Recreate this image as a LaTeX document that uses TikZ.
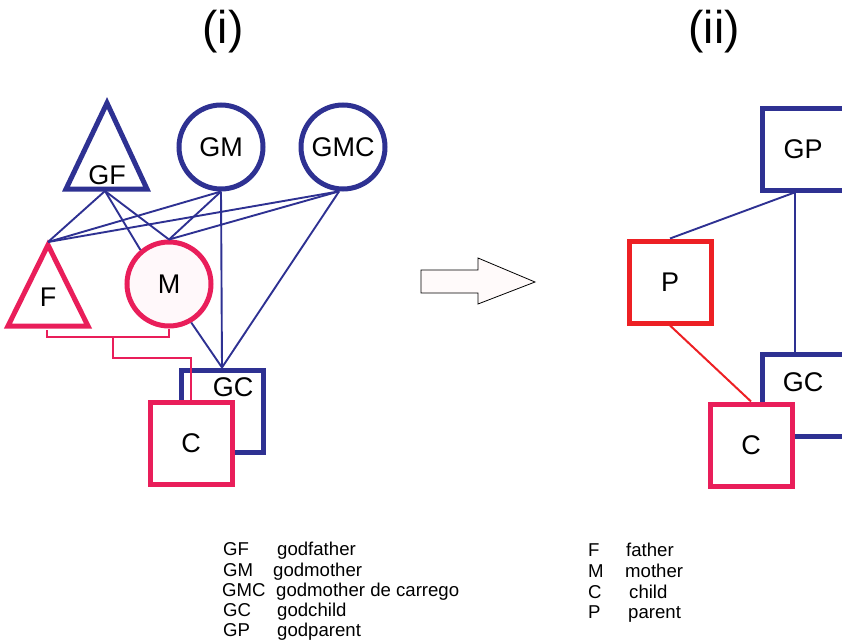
\documentclass[tikz,border=0pt]{standalone}
\usepackage{fontspec}
\setmainfont{Liberation Sans}
\usetikzlibrary{positioning}
\definecolor{godblue}{HTML}{2E3192}
\definecolor{kinpink}{HTML}{E91E5A}
\definecolor{kinred}{HTML}{ED2024}
\definecolor{mumfill}{HTML}{FFF8FA}
\definecolor{arrowfill}{HTML}{FFFAFA}
\begin{document}
\begin{tikzpicture}[x=1pt, y=-1pt,
    bigtext/.style={font=\fontsize{27}{27}\selectfont},
    godbox/.style={draw=godblue, fill=white, line width=5pt, minimum size=82pt, inner sep=0pt},
    godring/.style={circle, draw=godblue, fill=white, line width=5pt, minimum size=84pt, inner sep=0pt, bigtext},
    kinbox/.style={draw=kinpink, fill=white, line width=5pt, minimum size=82pt, inner sep=0pt, bigtext},
    godline/.style={draw=godblue, line width=1.9pt},
    kinline/.style={draw=kinpink, line width=2pt},
    keytext/.style={anchor=base west, inner sep=0pt, font=\fontsize{18.6}{18.6}\selectfont}]
        \clip (0,0) rectangle (842,640);

        \node [anchor=base, font=\fontsize{46}{46}\selectfont] (titleone) at (223,43) {(i)};
        \node [anchor=base, font=\fontsize{46}{46}\selectfont] (titletwo) at (714,43) {(ii)};

        % (i)
        \coordinate (GFtop) at (107,103);
        \coordinate (GFbase) at (105,191);
        \draw [godblue, line width=5pt] (GFtop) -- (147,189) -- (66,189) -- cycle;
        \node [bigtext] (GFlabel) at (107,175) {GF};
        \node [godring] (GM) at (221,147) {GM};
        \node [godring] (GMC) at (343,147) {GMC};

        \coordinate (Ftop) at (48,242);
        \coordinate (Fbase) at (47,330);
        \draw [kinpink, line width=5pt] (48,245) -- (88,326) -- (8,326) -- cycle;
        \node [bigtext] (Flabel) at (48,297) {F};
        \node [godring, draw=kinpink, fill=mumfill] (M) at (169,284) {M};

        \node [godbox] (GC) at (222,411) {};
        \node [bigtext] (GClabel) at (233,387) {GC};
        \node [kinbox] (C) at (191,443) {C};

        \draw [godline] (GFbase) -- (Ftop);
        \draw [godline] (GFbase) -- (M.130);
        \draw [godline] (GFbase) -- (M.north);
        \draw [godline] (GM.south) -- (Ftop);
        \draw [godline] (GM.south) -- (M.north);
        \draw [godline] (GM.south) -- (GC.north);
        \draw [godline] (GMC.-95) -- (Ftop);
        \draw [godline] (GMC.-95) -- (M.north);
        \draw [godline] (GMC.-95) -- (GC.north);
        \draw [godline] (M.-60) -- (GC.north);

        \coordinate (union) at (113,337);
        \draw [kinline] (Fbase) -- ++(0,7) -| (M.south);
        \draw [kinline] (union) -- ++(0,21) -| (C.north);

        % arrow
        \draw [fill=arrowfill, line width=0.8pt] (421,270) -- (478,270) -- (478,258) -- (535,282)
            -- (478,304) -- (478,293) -- (421,293) -- cycle;

        % (ii)
        \node [godbox, bigtext] (GP) at (803,149) {GP};
        \node [kinbox, draw=kinred] (P) at (670,282) {P};
        \node [godbox] (GCtwo) at (803,395) {};
        \node [bigtext] (GCtwolabel) at (803,382) {GC};
        \node [kinbox] (Ctwo) at (751,445) {C};

        \draw [godline] (GP.-101) -- (P.north);
        \draw [godline] (GP.-101) -- (GP.-101 |- GCtwo.north);
        \draw [kinline, draw=kinred] (P.south) -- (Ctwo.north);

        % key
        \node [keytext] (kGF) at (223,555) {GF};
        \node [keytext] (kGFt) at (277,555) {godfather};
        \node [keytext] (kGM) at (223,576) {GM};
        \node [keytext] (kGMt) at (273,576) {godmother};
        \node [keytext] (kGMC) at (222,596) {GMC};
        \node [keytext] (kGMCt) at (276,596) {godmother de carrego};
        \node [keytext] (kGC) at (223,616) {GC};
        \node [keytext] (kGCt) at (277,616) {godchild};
        \node [keytext] (kGP) at (223,636) {GP};
        \node [keytext] (kGPt) at (277,636) {godparent};

        \node [keytext] (kF) at (588,556) {F};
        \node [keytext] (kFt) at (626,556) {father};
        \node [keytext] (kM) at (588,577) {M};
        \node [keytext] (kMt) at (625,577) {mother};
        \node [keytext] (kC) at (588,598) {C};
        \node [keytext] (kCt) at (629,598) {child};
        \node [keytext] (kP) at (588,618) {P};
        \node [keytext] (kPt) at (628,618) {parent};
      \end{tikzpicture}
\end{document}
